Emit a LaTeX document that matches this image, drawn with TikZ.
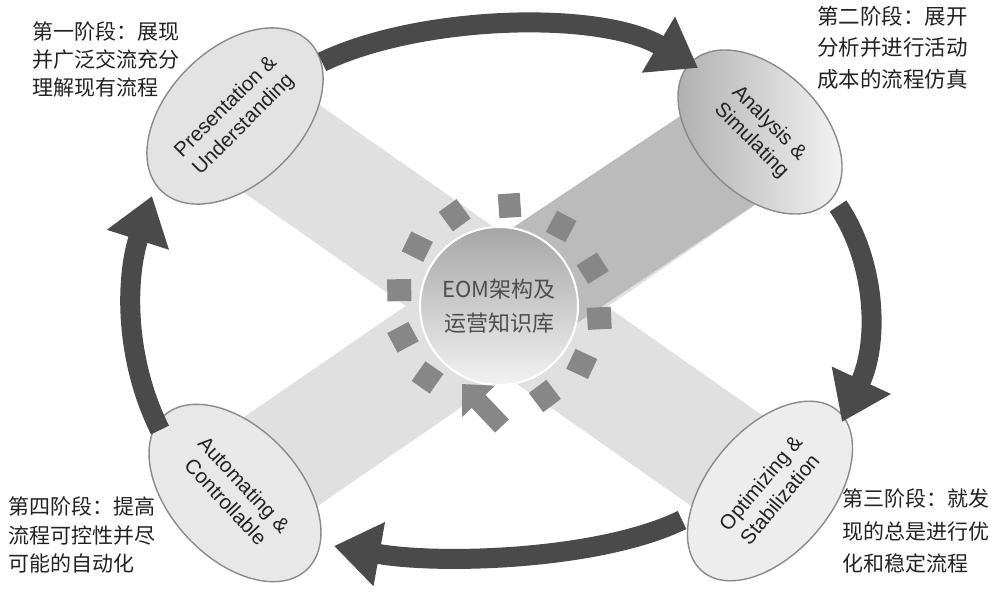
\documentclass[tikz,border=0pt]{standalone}
\usepackage{fontspec}
\setmainfont{Liberation Sans}
\newfontfamily\cjk{Noto Sans CJK SC}
\usetikzlibrary{shapes.geometric,arrows.meta,calc}
\definecolor{arrowc}{HTML}{4A4A4A}
\definecolor{sqc}{HTML}{878787}
\definecolor{bandl}{HTML}{E0E0E0}
\definecolor{bandd}{HTML}{BBBBBB}
\definecolor{rimc}{HTML}{8A8A8A}
\definecolor{txtc}{HTML}{222222}
\begin{document}
\begin{tikzpicture}[x=1pt,y=-1pt,
  stage/.style={ellipse, draw=rimc, line width=1.4pt, inner sep=0pt, align=center,
    font=\fontsize{20.5}{25}\selectfont, text=txtc},
  bigarrow/.style={draw=arrowc, line width=20pt, -{Triangle[length=46pt,width=62pt]}},
  note/.style={anchor=north west, inner sep=0pt, align=left, font=\cjk\fontsize{21}{28}\selectfont, text=txtc},
  sq/.style={fill=sqc, minimum width=24pt, minimum height=22pt, inner sep=0pt},
  band/.style={line width=115pt}]
\useasboundingbox (0,0) rectangle (991,596);
\fill[white] (0,0) rectangle (991,596);

% centres
\coordinate (c1) at (235,116);
\coordinate (c2) at (760,132);
\coordinate (c3) at (770,491);
\coordinate (c4) at (235,493);
\coordinate (c0) at (499,306);

% crossing bands
\draw[band, bandl] (c1) -- (c3);
\draw[band, bandl] (c4) -- (c2);
\draw[band, bandd] (c0) -- (c2);

% stage ellipses
\node[stage, minimum width=210pt, minimum height=134pt, rotate=45, fill=gray!22] (e1) at (c1)
  {Presentation \&\\Understanding};
\node[stage, minimum width=196pt, minimum height=124pt, rotate=-45,
  left color=gray!65, right color=gray!6] (e2) at (c2)
  {Analysis \&\\Simulating};
\node[stage, minimum width=210pt, minimum height=124pt, rotate=50, fill=gray!14] (e3) at (c3)
  {Optimizing \&\\Stabilization};
\node[stage, minimum width=210pt, minimum height=130pt, rotate=-47, fill=gray!18] (e4) at (c4)
  {Automating \&\\Controllable};

% knowledge base
\node[circle, minimum size=158pt, inner sep=0pt, draw=white, line width=2pt,
  top color=gray!70, bottom color=gray!10, align=center, text=txtc!80,
  font=\cjk\fontsize{22}{34}\selectfont] (kb) at (c0) {EOM架构及\\运营知识库};

\foreach \a [count=\i] in {84,52,22,-7,-35,-63,-135,-162,-189,-216,-244}
  \node[sq, rotate=\a+10] (s\i) at ($(kb)+(-\a:101)$) {};
\coordinate (ka) at (502,426);
\coordinate (kz) at (462,384);
\draw[sqc, line width=19pt, -{Triangle[length=24pt,width=44pt]}] (ka) -- (kz);

% cycle arrows
\coordinate (a1s) at (322,62);   \coordinate (a1e) at (698,68);
\coordinate (a2s) at (838,206);  \coordinate (a2e) at (842,422);
\coordinate (a3s) at (682,520);  \coordinate (a3e) at (334,546);
\coordinate (a4s) at (160,430);  \coordinate (a4e) at (152,196);
\draw[bigarrow] (a1s) .. controls (420,15) and (600,10) .. (a1e);
\draw[bigarrow] (a2s) .. controls (875,260) and (880,340) .. (a2e);
\draw[bigarrow] (a3s) .. controls (600,560) and (440,565) .. (a3e);
\draw[bigarrow] (a4s) .. controls (125,360) and (125,280) .. (a4e);

% stage descriptions
\node[note] (t1) at (32,22) {第一阶段：展现\\并广泛交流充分\\理解现有流程};
\node[note, font=\cjk\fontsize{21.5}{31.5}\selectfont] (t2) at (817,6) {第二阶段：展开\\分析并进行活动\\成本的流程仿真};
\node[note, font=\cjk\fontsize{21}{32.5}\selectfont] (t3) at (842,489) {第三阶段：就发\\现的总是进行优\\化和稳定流程};
\node[note, font=\cjk\fontsize{21}{28.5}\selectfont] (t4) at (8,497) {第四阶段：提高\\流程可控性并尽\\可能的自动化};
\end{tikzpicture}
\end{document}
